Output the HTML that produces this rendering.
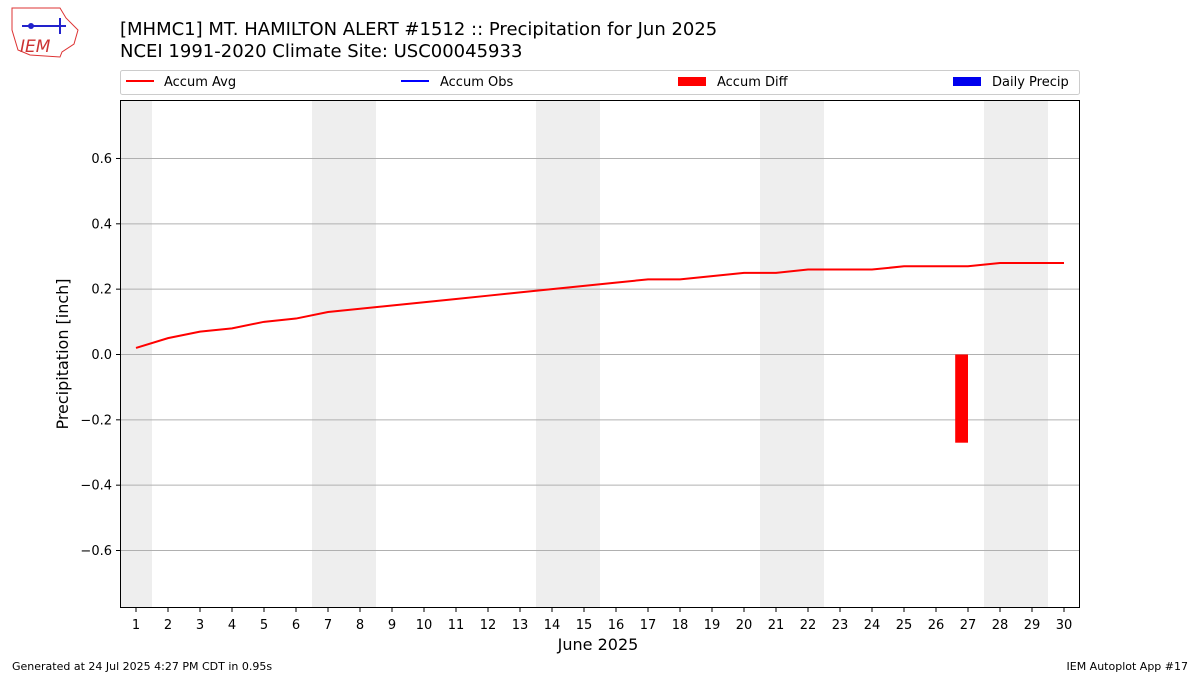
<!DOCTYPE html>
<html><head><meta charset="utf-8"><style>
body{margin:0;background:#fff;font-family:"Liberation Sans","DejaVu Sans",sans-serif;}
svg text{font-family:"DejaVu Sans","Liberation Sans",sans-serif;}
</style></head><body>
<svg id="chart" width="1200" height="675" viewBox="0 0 1200 675" xmlns="http://www.w3.org/2000/svg">
<rect width="1200" height="675" fill="#fff"/>
<g>
<path d="M12 8 L60 8 L66 18 L78 30 L74 44 L62 52 L60 57 L30 55 L18 50 L12 30 Z" fill="none" stroke="#d33" stroke-width="1"/>
<line x1="22" y1="26" x2="66" y2="26" stroke="#22c" stroke-width="2"/>
<line x1="60" y1="18" x2="60" y2="34" stroke="#22c" stroke-width="2"/>
<circle cx="31" cy="26" r="3" fill="#22c"/>
<text x="20" y="52" font-size="17" font-style="italic" fill="#c33" font-family="Liberation Serif,serif">IEM</text>
</g>
<text x="120" y="35" font-size="18" fill="#000">[MHMC1] MT. HAMILTON ALERT #1512 :: Precipitation for Jun 2025</text>
<text x="120" y="57" font-size="18" fill="#000">NCEI 1991-2020 Climate Site: USC00045933</text>
<g>
<rect x="120.5" y="70.5" width="959" height="24" fill="#fff" stroke="#ccc" rx="2"/>
<g><line x1="126" y1="81" x2="154" y2="81" stroke="red" stroke-width="2"/><text x="164" y="86" font-size="13">Accum Avg</text></g>
<g><line x1="401" y1="81" x2="429" y2="81" stroke="blue" stroke-width="2"/><text x="440" y="86" font-size="13">Accum Obs</text></g>
<g><rect x="678" y="77" width="28" height="9" fill="red"/><text x="717" y="86" font-size="13">Accum Diff</text></g>
<g><rect x="953" y="77" width="28" height="9" fill="#0000ee"/><text x="992" y="86" font-size="13">Daily Precip</text></g>
</g>
<g id="plot"></g>
<text x="598" y="650" font-size="16" text-anchor="middle">June 2025</text>
<text transform="translate(68,354) rotate(-90)" font-size="16" text-anchor="middle">Precipitation [inch]</text>
<text x="12" y="670" font-size="11">Generated at 24 Jul 2025 4:27 PM CDT in 0.95s</text>
<text x="1188" y="670" font-size="11" text-anchor="end">IEM Autoplot App #17</text>
</svg>
<script>
const days=[1,2,3,4,5,6,7,8,9,10,11,12,13,14,15,16,17,18,19,20,21,22,23,24,25,26,27,28,29,30];
const accumAvg=[0.02,0.05,0.07,0.08,0.10,0.11,0.13,0.14,0.15,0.16,0.17,0.18,0.19,0.20,0.21,0.22,0.23,0.23,0.24,0.25,0.25,0.26,0.26,0.26,0.27,0.27,0.27,0.28,0.28,0.28];
const diffDays=[27];
const diffValues=[-0.27];
const weekendStarts=[1,7,14,21,28];
const weekendLens=[1,2,2,2,2];
const yTicks=[-0.6,-0.4,-0.2,0.0,0.2,0.4,0.6];
const yTickLabels=["\u22120.6","\u22120.4","\u22120.2","0.0","0.2","0.4","0.6"];
const L=120,R=1080,T=100,B=608,ymin=-0.776,ymax=0.779;
const X=d=>L+(d-0.5)*(R-L)/30;
const Y=v=>T+(ymax-v)*(B-T)/(ymax-ymin);
const NS="http://www.w3.org/2000/svg",g=document.getElementById('plot');
function mk(t,a){const e=document.createElementNS(NS,t);for(const k in a)e.setAttribute(k,a[k]);g.appendChild(e);return e;}
weekendStarts.forEach((s,i)=>{const r=mk('rect',{x:X(s-0.5),y:T,width:X(s-0.5+weekendLens[i])-X(s-0.5),height:B-T,fill:'#eeeeee'});

});
yTicks.forEach((v,i)=>{const l=mk('line',{x1:L,x2:R,y1:Y(v),y2:Y(v),stroke:'#b0b0b0','stroke-width':1});


mk('line',{x1:L-4,x2:L,y1:Y(v),y2:Y(v),stroke:'#000'});
const t=mk('text',{x:L-8,y:Y(v)+4.5,'font-size':13,'text-anchor':'end'});t.textContent=yTickLabels[i];

});
days.forEach(d=>{mk('line',{x1:X(d),x2:X(d),y1:B,y2:B+4,stroke:'#000'});
const t=mk('text',{x:X(d),y:B+21,'font-size':13,'text-anchor':'middle'});t.textContent=d;

});
diffDays.forEach((d,i)=>{const v=diffValues[i];const b=mk('rect',{x:X(d-0.4),y:Math.min(Y(0),Y(v)),width:X(d)-X(d-0.4),height:Math.abs(Y(v)-Y(0)),fill:'red'});

});
const p=mk('polyline',{points:days.map((d,i)=>X(d)+','+Y(accumAvg[i])).join(' '),fill:'none',stroke:'red','stroke-width':2});


const f=mk('rect',{x:L+0.5,y:T+0.5,width:R-L-1,height:B-T-1,fill:'none',stroke:'#000'});


</script>
</body></html>
